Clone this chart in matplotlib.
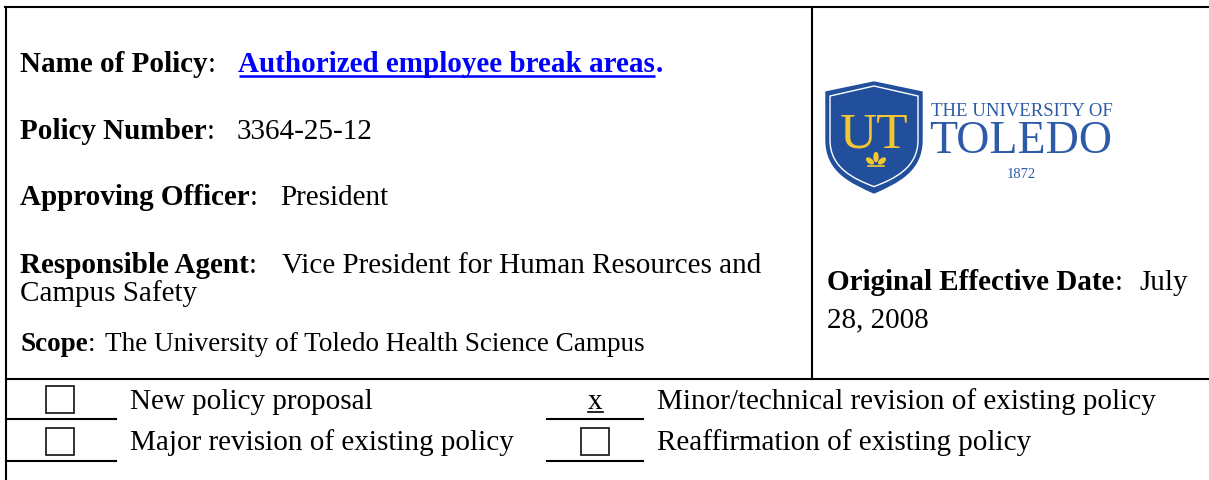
import matplotlib
matplotlib.use('Agg')
import matplotlib.pyplot as plt
from matplotlib.path import Path
from matplotlib.patches import PathPatch, Rectangle, Ellipse

plt.rcParams['font.family'] = ['Liberation Serif', 'DejaVu Serif']

# header fields (label, value)
field_labels = ['Name of Policy', 'Policy Number', 'Approving Officer',
                'Responsible Agent', 'Scope']
field_values = ['Authorized employee break areas', '3364-25-12', 'President',
                'Vice President for Human Resources and\nCampus Safety',
                'The University of Toledo Health Science Campus']
date_label = 'Original Effective Date'
date_value = ['July', '28, 2008']

# revision checkboxes, row-major (left, right)
option_labels = ['New policy proposal', 'Minor/technical revision of existing policy',
                 'Major revision of existing policy', 'Reaffirmation of existing policy']
option_marked = [False, True, False, False]

logo_small = 'THE UNIVERSITY OF'
logo_big = 'TOLEDO'
logo_year = '1872'
logo_initials = 'UT'

W, H = 1209, 480
FS = 21
LW = 1.5

fig = plt.figure(figsize=(W / 100, H / 100), dpi=100)
ax = fig.add_axes([0, 0, 1, 1])
ax.set_xlim(0, W)
ax.set_ylim(H, 0)
ax.axis('off')
renderer = fig.canvas.get_renderer()


def right_edge(t):
    bb = t.get_window_extent(renderer)
    return ax.transData.inverted().transform((bb.x1, bb.y0))[0]


# frame lines
ax.plot([5, W], [7, 7], color='k', lw=LW)
ax.plot([6, 6], [7, H], color='k', lw=LW)
ax.plot([812, 812], [7, 379], color='k', lw=LW)
ax.plot([6, W], [379, 379], color='k', lw=LW)
for y in [419, 461]:
    ax.plot([6, 116], [y, y], color='k', lw=LW)
    ax.plot([547, 643], [y, y], color='k', lw=LW)

# left column fields
label_x = 20
gaps = [23, 22, 23, 25, 10]
sizes = [FS, FS, FS, FS, 19.5]
baselines = [72, 139, 205, 273, 351]
for i, (lab, val) in enumerate(zip(field_labels, field_values)):
    fs = sizes[i]
    t = ax.text(label_x, baselines[i], lab, fontsize=fs, fontweight='bold',
                va='baseline', ha='left')
    c = ax.text(right_edge(t), baselines[i], ':', fontsize=fs, va='baseline', ha='left')
    vx = right_edge(c) + gaps[i]
    if i == 0:
        link = ax.text(vx, baselines[i], val, fontsize=fs, fontweight='bold',
                       color='#0000ff', va='baseline', ha='left')
        x_end = right_edge(link)
        ax.text(x_end, baselines[i], '.', fontsize=fs, fontweight='bold',
                color='#0000ff', va='baseline', ha='left')
        ax.plot([vx, x_end], [baselines[i] + 4, baselines[i] + 4],
                color='#0000ff', lw=1.8, solid_capstyle='butt')
    else:
        lines = val.split('\n')
        ax.text(vx, baselines[i], lines[0], fontsize=fs,
                va='baseline', ha='left')
        for k, extra in enumerate(lines[1:]):
            ax.text(label_x, baselines[i] + 28 * (k + 1), extra, fontsize=fs,
                    va='baseline', ha='left')

# effective date
t = ax.text(827, 290, date_label, fontsize=FS, fontweight='bold',
            va='baseline', ha='left')
c = ax.text(right_edge(t), 290, ':', fontsize=FS, va='baseline', ha='left')
ax.text(right_edge(c) + 17, 290, date_value[0], fontsize=FS, va='baseline', ha='left')
ax.text(827, 327, date_value[1], fontsize=FS, va='baseline', ha='left')

# checkbox rows
row_base = [409, 450]
box_y = [386, 428]
mark_x = [60, 595]
text_x = [130, 657]
for i, (lab, marked) in enumerate(zip(option_labels, option_marked)):
    r, col = divmod(i, 2)
    ax.text(text_x[col], row_base[r], lab, fontsize=FS, va='baseline', ha='left')
    if marked:
        ax.text(mark_x[col], row_base[r], 'x', fontsize=FS, va='baseline', ha='center')
        ax.plot([mark_x[col] - 7, mark_x[col] + 8], [row_base[r] + 3, row_base[r] + 3],
                color='k', lw=1.2)
    else:
        ax.add_patch(Rectangle((mark_x[col] - 14, box_y[r]), 28, 27, fill=False,
                               edgecolor='#222222', lw=1.3))

# logo shield
navy = '#214f9c'
gold = '#f4c631'


def shield(cx, top, half_w, shoulder, side_bottom, tip, inset=0):
    hw = half_w - inset
    verts = [(cx - hw, shoulder + inset), (cx, top + inset), (cx + hw, shoulder + inset),
             (cx + hw, side_bottom),
             (cx + hw, side_bottom + 32 - inset), (cx + 22 - inset * 0.5, tip - 10 - inset),
             (cx, tip - inset * 1.6),
             (cx - 22 + inset * 0.5, tip - 10 - inset), (cx - hw, side_bottom + 32 - inset),
             (cx - hw, side_bottom), (cx - hw, shoulder + inset)]
    codes = [Path.MOVETO, Path.LINETO, Path.LINETO, Path.LINETO,
             Path.CURVE4, Path.CURVE4, Path.CURVE4,
             Path.CURVE4, Path.CURVE4, Path.CURVE4, Path.CLOSEPOLY]
    return Path(verts, codes)


ax.add_patch(PathPatch(shield(874, 82, 48, 92, 140, 193), facecolor=navy,
                       edgecolor=navy, lw=1))
ax.add_patch(PathPatch(shield(874, 82, 48, 92, 140, 193, inset=4), facecolor='none',
                       edgecolor='white', lw=1.0))
ax.text(874, 148, logo_initials, fontsize=37, color=gold, ha='center',
        va='baseline')
ax.add_patch(Ellipse((876, 157), 4, 9, color=gold))
ax.add_patch(Ellipse((870, 161), 4, 8, angle=-50, color=gold))
ax.add_patch(Ellipse((882, 161), 4, 8, angle=50, color=gold))
ax.plot([868, 884], [166, 166], color=gold, lw=1.2)

logo_blue = '#2d5ba7'
ax.text(931, 116, logo_small, fontsize=13.5, color=logo_blue, ha='left', va='baseline')
ax.text(929, 153, logo_big, fontsize=33, color=logo_blue, ha='left', va='baseline')
ax.text(1021, 178, logo_year, fontsize=10.5, color=logo_blue, ha='center',
        va='baseline')

fig.savefig('out.png', dpi=100, facecolor='white')
